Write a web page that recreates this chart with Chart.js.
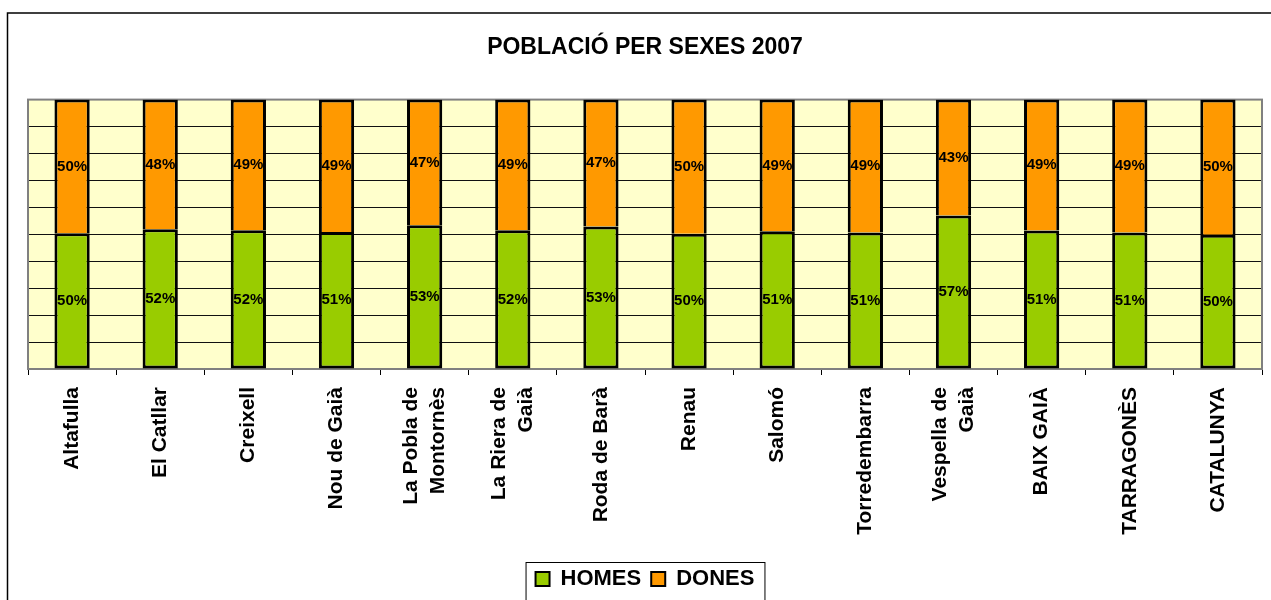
<!DOCTYPE html>
<html>
<head>
<meta charset="utf-8">
<script src="https://cdn.jsdelivr.net/npm/chart.js@4"></script>
<style>
  html, body { margin: 0; padding: 0; background: #fff; }
  #wrap { position: relative; width: 1271px; height: 600px; }
</style>
</head>
<body>
<div id="wrap"><canvas id="sexChart" width="1271" height="600"></canvas></div>
<script>
const categories = ['Altafulla', 'El Catllar', 'Creixell', 'Nou de Gaià', ['La Pobla de', 'Montornès'],
    ['La Riera de', 'Gaià'], 'Roda de Barà', 'Renau', 'Salomó', 'Torredembarra', ['Vespella de', 'Gaià'],
    'BAIX GAIÀ', 'TARRAGONÈS', 'CATALUNYA'];
const homes = [50.4, 51.9, 51.5, 50.9, 53.4, 51.5, 52.9, 50.2, 51.1, 50.7, 57.0, 51.4, 50.7, 49.8];
const dones = [49.6, 48.1, 48.5, 49.1, 46.6, 48.5, 47.1, 49.8, 48.9, 49.3, 43.0, 48.6, 49.3, 50.2];
const yTicks = [0, 10, 20, 30, 40, 50, 60, 70, 80, 90, 100];

const FONT = "'Liberation Sans', Arial, sans-serif";

// plot background, plot border, outer frame, legend frame, value labels
const decor = {
    id: 'decor',
    beforeDraw(chart) {
        const { ctx, chartArea: a } = chart;
        // center multi-line rotated category labels on their tick
        const xs = chart.scales.x;
        xs.getLabelItems().forEach(item => {
            if (Array.isArray(item.label)) {
                item.textOffset -= (item.label.length - 1) * item.font.lineHeight / 2;
            }
        });
        ctx.save();
        ctx.fillStyle = '#FFFFCC';
        ctx.fillRect(a.left, a.top, a.right - a.left, a.bottom - a.top);
        // outer frame
        ctx.strokeStyle = '#000';
        ctx.lineWidth = 1.5;
        ctx.beginPath();
        ctx.moveTo(7.5, 600);
        ctx.lineTo(7.5, 13);
        ctx.lineTo(1271, 13);
        ctx.stroke();
        ctx.restore();
    },
    beforeDatasetsDraw(chart) {
        const { ctx, chartArea: a } = chart;
        ctx.save();
        ctx.strokeStyle = '#808080';
        ctx.lineWidth = 2;
        ctx.strokeRect(a.left, a.top, a.right - a.left, a.bottom - a.top);
        ctx.restore();
    },
    afterDatasetsDraw(chart) {
        const { ctx } = chart;
        ctx.save();
        ctx.font = 'bold 15px ' + FONT;
        ctx.fillStyle = '#000';
        ctx.textAlign = 'center';
        ctx.textBaseline = 'middle';
        chart.data.datasets.forEach((ds, di) => {
            chart.getDatasetMeta(di).data.forEach((bar, i) => {
                const mid = (bar.y + bar.base) / 2;
                ctx.fillText(Math.round(ds.data[i]) + '%', bar.x, mid);
            });
        });
        // legend frame
        const boxes = chart.legend.legendHitBoxes;
        if (boxes && boxes.length) {
            const l = Math.min(...boxes.map(b => b.left)) - 10;
            const r = Math.max(...boxes.map(b => b.left + b.width)) + 10;
            ctx.strokeStyle = '#000';
            ctx.lineWidth = 1;
            ctx.strokeRect(l + 0.5, 562.5, r - l, 60);
        }
        ctx.restore();
    }
};

new Chart(document.getElementById('sexChart'), {
    type: 'bar',
    data: {
        labels: categories,
        datasets: [{
            label: 'HOMES',
            data: homes,
            backgroundColor: '#99CC00',
            borderColor: '#000',
            borderWidth: 3,
            borderSkipped: false,
            categoryPercentage: 1,
            barPercentage: 0.4
        }, {
            label: 'DONES',
            data: dones,
            backgroundColor: '#FF9900',
            borderColor: '#000',
            borderWidth: { top: 3, left: 3, right: 3, bottom: 0 },
            borderSkipped: false,
            categoryPercentage: 1,
            barPercentage: 0.4
        }]
    },
    options: {
        responsive: false,
        animation: false,
        devicePixelRatio: 1,
        layout: { padding: { left: 28, right: 9, top: 0, bottom: 0 } },
        plugins: {
            title: {
                display: true,
                text: 'POBLACIÓ PER SEXES 2007',
                color: '#000',
                font: { family: FONT, size: 23, weight: 'bold' },
                padding: { top: 34, bottom: 38 }
            },
            legend: {
                position: 'bottom',
                labels: {
                    color: '#000',
                    font: { family: FONT, size: 22, weight: 'bold' },
                    boxWidth: 14,
                    boxHeight: 14,
                    padding: 10,
                    generateLabels(chart) {
                        return chart.data.datasets.map((ds, i) => ({
                            text: ds.label,
                            fillStyle: ds.backgroundColor,
                            strokeStyle: '#000',
                            lineWidth: 2,
                            datasetIndex: i,
                            fontColor: '#000'
                        }));
                    }
                }
            },
            tooltip: { enabled: false }
        },
        scales: {
            x: {
                stacked: true,
                border: { display: false },
                grid: { offset: true, drawOnChartArea: false, tickLength: 6, color: '#000' },
                ticks: {
                    color: '#000',
                    font: { family: FONT, size: 21, weight: 'bold', lineHeight: 1.3 },
                    maxRotation: 90,
                    minRotation: 90,
                    padding: 12,
                    autoSkip: false
                },
                afterFit(scale) { scale.height = 189; }
            },
            y: {
                stacked: true,
                min: 0,
                max: 100,
                border: { display: false },
                afterBuildTicks(scale) { scale.ticks = yTicks.map(v => ({ value: v })); },
                grid: {
                    drawTicks: false,
                    color: ctx => (ctx.tick && (ctx.tick.value === 0 || ctx.tick.value === 100)) ? 'rgba(0,0,0,0)' : '#111',
                    lineWidth: 1
                },
                ticks: { display: false }
            }
        }
    },
    plugins: [decor]
});
</script>
</body>
</html>
